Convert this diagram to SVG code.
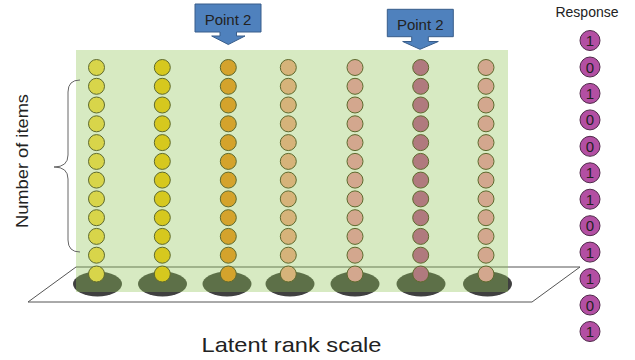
<svg xmlns="http://www.w3.org/2000/svg" width="635" height="360" viewBox="0 0 635 360">
<style>
text{font-family:"Liberation Sans",Arial,sans-serif;fill:#222}
.it{stroke:#5e6a2e;stroke-width:1}
.c1{fill:#d8d54a}.c2{fill:#d6c81e}.c3{fill:#d4a32c}.c4{fill:#d6b37a}.c5{fill:#d3a78e}.c6{fill:#b07a7e}
.base{fill:#404040}
.resp{fill:#b34fa3;stroke:#4f2a4a;stroke-width:1}
.rt{font-size:15px;text-anchor:middle}
.call{fill:#4f81bd;stroke:#385d8a;stroke-width:1}
</style>
<defs>
<g id="col">
<circle cx="0" cy="67.5" r="8"/><circle cx="0" cy="86.3" r="8"/><circle cx="0" cy="105" r="8"/><circle cx="0" cy="123.8" r="8"/>
<circle cx="0" cy="142.6" r="8"/><circle cx="0" cy="161.4" r="8"/><circle cx="0" cy="180.1" r="8"/><circle cx="0" cy="198.9" r="8"/>
<circle cx="0" cy="217.7" r="8"/><circle cx="0" cy="236.4" r="8"/><circle cx="0" cy="255.2" r="8"/><circle cx="0" cy="274" r="8"/>
</g>
</defs>
<g id="plane"><polygon points="28,302 76,267 580,267 532,302" fill="none" stroke="#555" stroke-width="1"/></g>
<g id="bases">
<ellipse class="base" cx="97.5" cy="284" rx="24.5" ry="12.5"/>
<ellipse class="base" cx="162.5" cy="284" rx="24.5" ry="12.5"/>
<ellipse class="base" cx="227" cy="284" rx="24.5" ry="12.5"/>
<ellipse class="base" cx="290" cy="284" rx="24.5" ry="12.5"/>
<ellipse class="base" cx="355" cy="284" rx="24.5" ry="12.5"/>
<ellipse class="base" cx="421" cy="284" rx="24.5" ry="12.5"/>
<ellipse class="base" cx="487.5" cy="284" rx="24.5" ry="12.5"/>
</g>
<g id="field"><rect x="76" y="50" width="432" height="242" fill="rgb(143,196,87)" fill-opacity="0.36"/></g>
<g id="items">
<use href="#col" x="96.5" class="it c1"/>
<use href="#col" x="162.3" class="it c2"/>
<use href="#col" x="228.3" class="it c3"/>
<use href="#col" x="288.3" class="it c4"/>
<use href="#col" x="355" class="it c5"/>
<use href="#col" x="420.7" class="it c6"/>
<use href="#col" x="486" class="it c5"/>
</g>
<g id="connectors">
<path d="M80,80 Q68,80 68,92 L68,155 Q68,167 54,167 Q68,167 68,179 L68,240 Q68,252 80,252" fill="none" stroke="#666" stroke-width="1"/>
</g>
<g id="point2a">
<path class="call" d="M195,4 H261 V32 H236.5 V36 H245 L228.3,44.5 L211.7,36 H220 V32 H195 Z"/>
<text x="228" y="25" font-size="15" text-anchor="middle">Point 2</text>
</g>
<g id="point2b">
<path class="call" d="M387.3,9.3 H453.3 V36.7 H428.3 V41.5 H438.3 L420,49.3 L402.7,41.5 H411.7 V36.7 H387.3 Z"/>
<text x="420.3" y="30" font-size="15" text-anchor="middle">Point 2</text>
</g>
<g id="response">
<text x="587" y="16.7" font-size="14" text-anchor="middle">Response</text>
<circle class="resp" cx="590" cy="40.5" r="10"/><text class="rt" x="590" y="46">1</text>
<circle class="resp" cx="590" cy="67" r="10"/><text class="rt" x="590" y="72.5">0</text>
<circle class="resp" cx="590" cy="93.4" r="10"/><text class="rt" x="590" y="98.9">1</text>
<circle class="resp" cx="590" cy="119.9" r="10"/><text class="rt" x="590" y="125.4">0</text>
<circle class="resp" cx="590" cy="146.3" r="10"/><text class="rt" x="590" y="151.8">0</text>
<circle class="resp" cx="590" cy="172.8" r="10"/><text class="rt" x="590" y="178.3">1</text>
<circle class="resp" cx="590" cy="199.2" r="10"/><text class="rt" x="590" y="204.7">1</text>
<circle class="resp" cx="590" cy="225.7" r="10"/><text class="rt" x="590" y="231.2">0</text>
<circle class="resp" cx="590" cy="252.1" r="10"/><text class="rt" x="590" y="257.6">1</text>
<circle class="resp" cx="590" cy="278.6" r="10"/><text class="rt" x="590" y="284.1">1</text>
<circle class="resp" cx="590" cy="305" r="10"/><text class="rt" x="590" y="310.5">0</text>
<circle class="resp" cx="590" cy="331.5" r="10"/><text class="rt" x="590" y="337">1</text>
</g>
<g id="labels">
<text transform="translate(28,161) rotate(-90)" font-size="16" text-anchor="middle" textLength="134" lengthAdjust="spacingAndGlyphs">Number of items</text>
<text x="291.5" y="351.7" font-size="21" text-anchor="middle" textLength="180" lengthAdjust="spacingAndGlyphs">Latent rank scale</text>
</g>
</svg>
